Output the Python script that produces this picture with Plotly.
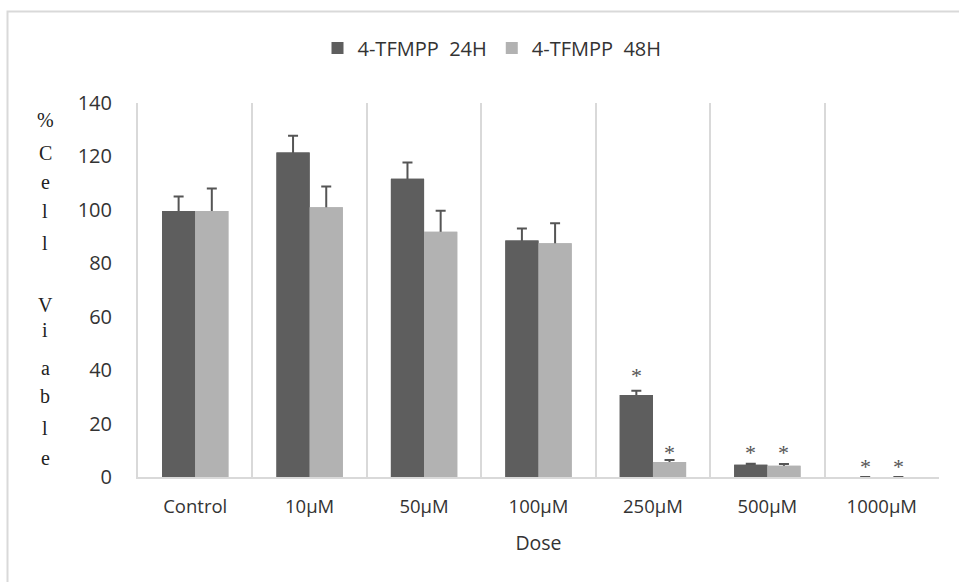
import plotly.graph_objects as go

doses = ["Control", "10µM", "50µM", "100µM", "250µM", "500µM", "1000µM"]
viab_24h = [99.6, 121.5, 111.6, 88.5, 30.7, 4.6, 0]
err_24h = [5.4, 6.2, 6.1, 4.5, 1.6, 0.4, None]
viab_48h = [99.6, 101.0, 91.8, 87.5, 5.6, 4.2, 0]
err_48h = [8.4, 7.7, 7.9, 7.5, 0.8, 0.7, None]
star_24h = [None, None, None, None, 38, 9, 3.9]
star_48h = [None, None, None, None, 9, 9, 3.9]
ytitle_letters = ["%", "C", "e", "l", "l", "V", "i", "a", "b", "l", "e"]

DARK = "#5e5e5e"
LIGHT = "#b2b2b2"
GRID = "#d9d9d9"
ERR = "#555555"

fig = go.Figure()
# error-bar layer (lower halves are covered by the bars drawn afterwards)
for vals, errs, col, grp in [(viab_24h, err_24h, DARK, "a"),
                             (viab_48h, err_48h, LIGHT, "b")]:
    fig.add_trace(go.Bar(
        x=doses, y=vals, marker_color=col, marker_line_width=0, offsetgroup=grp,
        showlegend=False, hoverinfo="skip",
        error_y=dict(type="data", array=errs, symmetric=True,
                     color=ERR, thickness=2, width=5),
    ))
# visible bars
fig.add_trace(go.Bar(x=doses, y=viab_24h, name="4-TFMPP  24H", marker_color=DARK,
                     marker_line_width=0, offsetgroup="a"))
fig.add_trace(go.Bar(x=doses, y=viab_48h, name="4-TFMPP  48H", marker_color=LIGHT,
                     marker_line_width=0, offsetgroup="b"))

annotations = []
for stars, shift in [(star_24h, -16.5), (star_48h, 16.5)]:
    for d, s in zip(doses, stars):
        if s is not None:
            annotations.append(dict(x=d, y=s, xref="x", yref="y", text="*", showarrow=False,
                                    xshift=shift,
                                    font=dict(family="Liberation Serif", size=22, color=ERR)))

# vertical stacked y-axis title letters
letter_px = [120, 153, 182, 211, 243, 305, 330, 368, 396, 428, 458]
plot_top, plot_h = 103, 374
for ch, py in zip(ytitle_letters, letter_px):
    annotations.append(dict(x=-(138 - 45) / 801, y=1 - (py - plot_top) / plot_h,
                            xref="paper", yref="paper", text=ch, showarrow=False,
                            xanchor="center", yanchor="middle",
                            font=dict(family="Liberation Serif", size=20, color="#222222")))

fig.update_layout(
    width=959, height=582,
    margin=dict(l=138, r=20, t=103, b=105),
    paper_bgcolor="white", plot_bgcolor="white",
    barmode="group", bargap=0.42, bargroupgap=0,
    font=dict(family="Open Sans, sans-serif", size=18, color="#333333"),
    legend=dict(orientation="h", x=(492 - 138) / 801, xanchor="center", y=1.147,
                yanchor="middle", font=dict(size=20, color="#333333"), itemwidth=30,
                traceorder="normal"),
    xaxis=dict(type="category", tickson="boundaries", showgrid=True, gridcolor=GRID,
               gridwidth=2, showline=True, linecolor=GRID, linewidth=2, ticks="",
               ticklabelstandoff=12,
               tickfont=dict(size=18.5, color="#333333"),
               title=dict(text="Dose", font=dict(size=19.5, color="#333333"), standoff=19)),
    yaxis=dict(range=[0, 140], dtick=20, showgrid=False, showline=True, linecolor=GRID,
               linewidth=2, ticks="", ticklabelstandoff=20, zeroline=False,
               tickfont=dict(size=20, color="#333333")),
    annotations=annotations,
    shapes=[dict(type="rect", xref="paper", yref="paper",
                 x0=(7.5 - 138) / 801, x1=1.2, y0=-0.5, y1=1 + (103 - 11.5) / 374,
                 line=dict(color=GRID, width=2), fillcolor="rgba(0,0,0,0)", layer="below")],
    showlegend=True,
)

fig.write_html("out.html")
